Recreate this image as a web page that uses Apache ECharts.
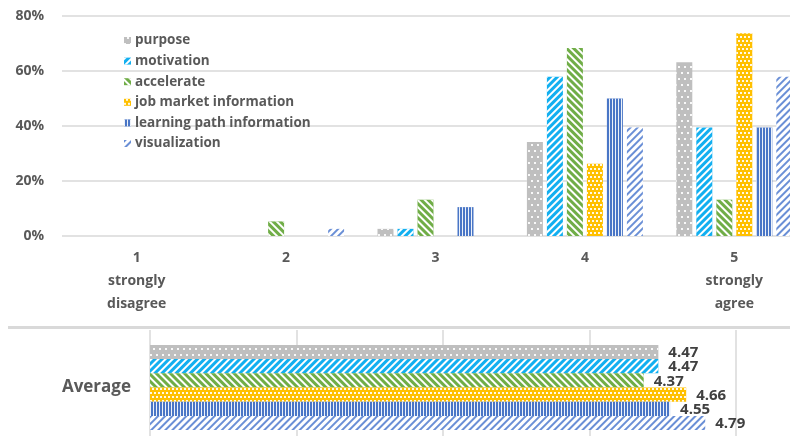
<!DOCTYPE html>
<html>
<head>
<meta charset="utf-8">
<script src="https://cdn.jsdelivr.net/npm/echarts@6/dist/echarts.min.js"></script>
<style>
  html, body { margin: 0; padding: 0; background: #ffffff; }
  #chart { width: 790px; height: 436px; }
</style>
</head>
<body>
<div id="chart"></div>
<script>
// Likert scale categories (1..5)
const categories = ['1\nstrongly\ndisagree', '2', '3', '4', '5\nstrongly\nagree'];
const yTicks = [0, 20, 40, 60, 80];

// Share of answers per scale point, in percent
const purpose       = [0, 0, 2.6, 34.2, 63.2];
const motivation    = [0, 0, 2.6, 57.9, 39.5];
const accelerate    = [0, 5.3, 13.2, 68.4, 13.2];
const jobMarket     = [0, 0, 0, 26.3, 73.7];
const learningPath  = [0, 0, 10.5, 50.0, 39.5];
const visualization = [0, 2.6, 0, 39.5, 57.9];

// Average score per item
const seriesNames = ['purpose', 'motivation', 'accelerate', 'job market information', 'learning path information', 'visualization'];
const averages = [4.47, 4.47, 4.37, 4.66, 4.55, 4.79];

const FONT = '"Open Sans", "Noto Sans", sans-serif';
const GREY_TEXT = '#595959';
const GRID_LINE = '#d9d9d9';

// Fill + hatch pattern per series
const styles = [
  { color: '#bfbfbf', decal: { symbol: 'rect', color: 'rgba(255,255,255,0.9)', dashArrayX: [[1.5, 3.5], [0, 2.5, 1.5, 1]], dashArrayY: [1.5, 3.5], rotation: 0 } },
  { color: '#12aff0', decal: { symbol: 'rect', color: '#ffffff', dashArrayX: [1, 0], dashArrayY: [1.4, 2.6], rotation: -Math.PI / 4 } },
  { color: '#70ad47', decal: { symbol: 'rect', color: '#ffffff', dashArrayX: [1, 0], dashArrayY: [1.6, 2.4], rotation: Math.PI / 4 } },
  { color: '#ffc000', decal: { symbol: 'rect', color: 'rgba(255,255,255,0.9)', dashArrayX: [[2, 2], [0, 2, 2, 0]], dashArrayY: [1.5, 2], rotation: 0 } },
  { color: '#4a76c6', decal: { symbol: 'rect', color: 'rgba(255,255,255,0.9)', dashArrayX: [1, 1.8], dashArrayY: [1, 0], rotation: 0 } },
  { color: '#ffffff', decal: { symbol: 'rect', color: '#6a8fd6', dashArrayX: [1, 0], dashArrayY: [1.3, 2.5], rotation: -Math.PI / 4 } }
];

const shares = [purpose, motivation, accelerate, jobMarket, learningPath, visualization];

const topSeries = shares.map((vals, i) => ({
  name: seriesNames[i],
  type: 'bar',
  xAxisIndex: 0,
  yAxisIndex: 0,
  data: vals,
  barWidth: 16,
  barGap: '25%',
  itemStyle: { color: styles[i].color, decal: styles[i].decal },
  emphasis: { disabled: true }
}));

const avgSeries = averages.map((v, i) => ({
  name: seriesNames[i],
  type: 'bar',
  xAxisIndex: 1,
  yAxisIndex: 1,
  data: [v],
  barWidth: 14.2,
  barGap: '0%',
  itemStyle: { color: styles[i].color, decal: styles[i].decal },
  label: {
    show: true,
    position: 'right',
    distance: 10,
    offset: [0, 1],
    formatter: (p) => p.value.toFixed(2),
    color: '#404040',
    fontFamily: FONT,
    fontWeight: 'bold',
    fontSize: 15
  },
  emphasis: { disabled: true }
}));

const chart = echarts.init(document.getElementById('chart'), null, { renderer: 'canvas' });

chart.setOption({
  animation: false,
  backgroundColor: '#ffffff',
  textStyle: { fontFamily: FONT },
  legend: {
    orient: 'vertical',
    left: 119,
    top: 28.5,
    itemWidth: 7,
    itemHeight: 7,
    itemGap: 6.6,
    icon: 'rect',
    selectedMode: false,
    data: seriesNames,
    textStyle: { color: GREY_TEXT, fontFamily: FONT, fontWeight: 'bold', fontSize: 13.5, lineHeight: 14, padding: [0, 0, 0, -1] }
  },
  grid: [
    { left: 62, top: 16, width: 747, height: 220, outerBoundsMode: 'none', containLabel: false },
    { left: 150, top: 330, width: 586, height: 115, outerBoundsMode: 'none', containLabel: false }
  ],
  xAxis: [
    {
      type: 'category',
      gridIndex: 0,
      data: categories,
      axisLine: { show: false },
      axisTick: { show: false },
      axisLabel: { color: GREY_TEXT, fontFamily: FONT, fontWeight: 'bold', fontSize: 14, lineHeight: 23, margin: 11, interval: 0 }
    },
    {
      type: 'value',
      gridIndex: 1,
      min: 1,
      max: 5,
      interval: 1,
      axisLine: { show: false },
      axisTick: { show: false },
      axisLabel: { show: false },
      splitLine: { show: true, lineStyle: { color: GRID_LINE, width: 1.5 } }
    }
  ],
  yAxis: [
    {
      type: 'value',
      gridIndex: 0,
      min: yTicks[0],
      max: yTicks[yTicks.length - 1],
      interval: 20,
      axisLine: { show: false },
      axisTick: { show: false },
      axisLabel: { formatter: '{value}%', color: GREY_TEXT, fontFamily: FONT, fontWeight: 'bold', fontSize: 14, margin: 18 },
      splitLine: { lineStyle: { color: GRID_LINE, width: 1.5 } }
    },
    {
      type: 'category',
      gridIndex: 1,
      data: ['Average'],
      inverse: true,
      axisLine: { show: false },
      axisTick: { show: false },
      axisLabel: { color: GREY_TEXT, fontFamily: FONT, fontWeight: 'bold', fontSize: 17, margin: 19, padding: [3, 0, 0, 0] }
    }
  ],
  graphic: [
    {
      type: 'line',
      shape: { x1: 8, y1: 327.5, x2: 790, y2: 327.5 },
      style: { stroke: GRID_LINE, lineWidth: 3 },
      silent: true
    }
  ],
  series: topSeries.concat(avgSeries)
});
</script>
</body>
</html>
